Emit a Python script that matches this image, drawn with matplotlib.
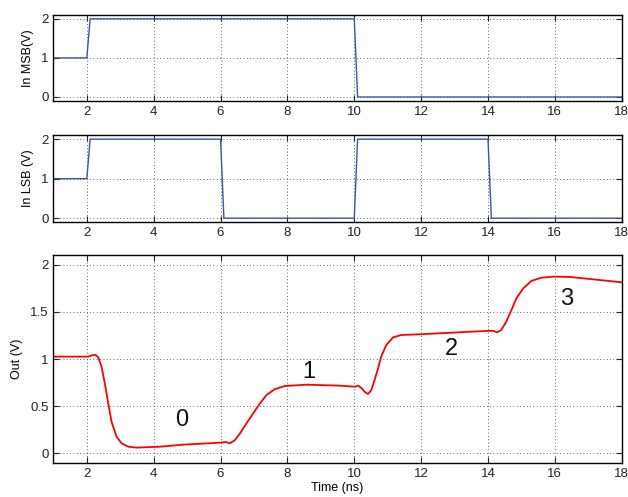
import matplotlib
matplotlib.use("Agg")
import matplotlib.pyplot as plt

plt.rcParams["font.family"] = ["Liberation Sans", "DejaVu Sans"]

# Input bit waveforms (ns, V)
msb_t = [1, 2.0, 2.1, 10.0, 10.1, 18]
msb_v = [1, 1, 2, 2, 0, 0]
lsb_t = [1, 2.0, 2.1, 6.0, 6.1, 10.0, 10.1, 14.0, 14.1, 18]
lsb_v = [1, 1, 2, 2, 0, 0, 2, 2, 0, 0]

# DAC output (ns, V)
out_t = [1.0, 1.79, 2.04, 2.19, 2.27, 2.34, 2.44, 2.54, 2.64, 2.74, 2.89, 3.04,
         3.24, 3.49, 4.18, 4.9, 6.0, 6.15, 6.28, 6.43, 6.58, 6.78, 6.97, 7.18,
         7.38, 7.62, 7.92, 8.57, 9.57, 10.02, 10.12, 10.22, 10.32, 10.41, 10.51,
         10.61, 10.71, 10.81, 10.96, 11.16, 11.41, 11.96, 13.45, 14.05, 14.15,
         14.27, 14.40, 14.55, 14.70, 14.85, 15.05, 15.30, 15.60, 15.95, 16.45,
         18.0]
out_v = [1.026, 1.026, 1.026, 1.043, 1.043, 1.02, 0.92, 0.74, 0.53, 0.335, 0.176,
         0.106, 0.07, 0.06, 0.07, 0.092, 0.113, 0.12, 0.106, 0.14, 0.21, 0.32,
         0.42, 0.53, 0.62, 0.68, 0.714, 0.728, 0.718, 0.707, 0.718, 0.69, 0.65,
         0.63, 0.67, 0.78, 0.90, 1.03, 1.15, 1.23, 1.256, 1.263, 1.29, 1.30,
         1.30, 1.284, 1.31, 1.40, 1.52, 1.645, 1.75, 1.83, 1.864, 1.875, 1.872,
         1.815]

codes = ["0", "1", "2", "3"]
code_t = [4.85, 8.65, 12.9, 16.35]
code_v = [0.35, 0.86, 1.11, 1.635]

fig = plt.figure(figsize=(6.28, 4.97), dpi=100)
ax1 = fig.add_axes((0.085, 0.797, 0.905, 0.173))
ax2 = fig.add_axes((0.085, 0.553, 0.905, 0.175))
ax3 = fig.add_axes((0.085, 0.069, 0.905, 0.417))


def style(ax, yticks, ylabels):
    ax.set_xlim(1, 18)
    ax.set_ylim(-0.1, 2.1)
    ax.set_xticks(range(2, 19, 2))
    ax.set_yticks(yticks)
    ax.set_yticklabels(ylabels)
    ax.grid(True, linestyle=(0, (1, 3)), color="#333333", linewidth=0.6)
    ax.tick_params(direction="in", top=True, right=True, length=4,
                   labelsize=9.5, width=0.8, colors="#222222")
    for s in ax.spines.values():
        s.set_linewidth(1.0)


ax1.plot(msb_t, msb_v, color="#3a55a8", lw=1.0)
style(ax1, [0, 1, 2], ["0", "1", "2"])
ax1.set_ylabel("In MSB(V)", fontsize=9, labelpad=5)

ax2.plot(lsb_t, lsb_v, color="#3a55a8", lw=1.0)
style(ax2, [0, 1, 2], ["0", "1", "2"])
ax2.set_ylabel("In LSB (V)", fontsize=9, labelpad=5)

ax3.plot(out_t, out_v, color="red", lw=1.3)
style(ax3, [0, 0.5, 1, 1.5, 2], ["0", "0.5", "1", "1.5", "2"])
ax3.set_ylabel("Out (V)", fontsize=9, labelpad=5)
ax3.set_xlabel("Time (ns)", fontsize=9, labelpad=2)
for c, t, v in zip(codes, code_t, code_v):
    ax3.text(t, v, c, fontsize=17, ha="center", va="center", color="#111111")

fig.savefig("out.png", dpi=100)
